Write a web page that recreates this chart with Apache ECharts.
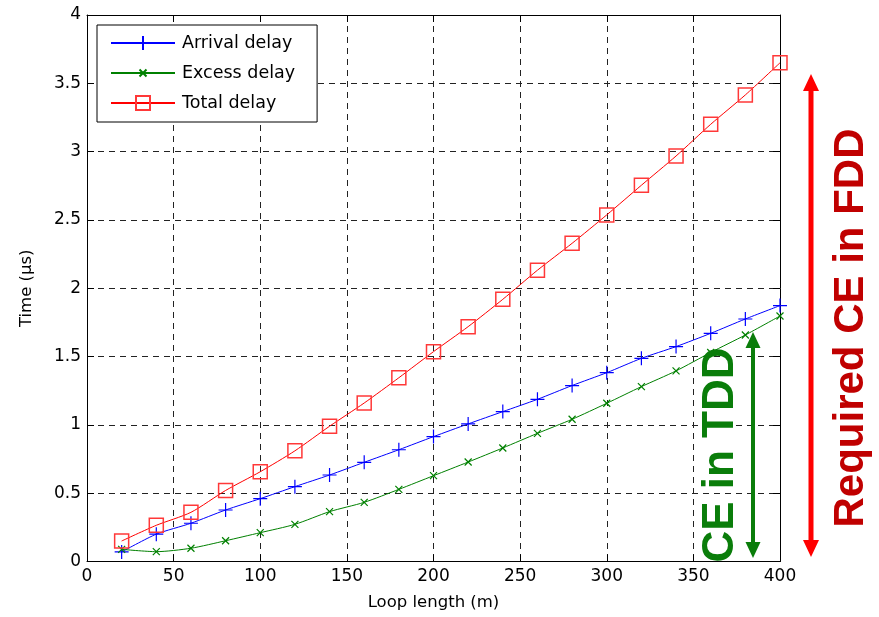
<!DOCTYPE html>
<html>
<head>
<meta charset="utf-8">
<script src="https://cdn.jsdelivr.net/npm/echarts@6/dist/echarts.min.js"></script>
<style>
  html, body { margin: 0; padding: 0; background: #fff; }
  #chart { width: 879px; height: 617px; }
</style>
</head>
<body>
<div id="chart"></div>
<script>
// Loop length (m)
const loopLength = [20, 40, 60, 80, 100, 120, 140, 160, 180, 200, 220, 240, 260, 280, 300, 320, 340, 360, 380, 400];
// Delay in microseconds
const arrivalDelay = [0.07, 0.20, 0.28, 0.377, 0.46, 0.548, 0.633, 0.726, 0.818, 0.914, 1.007, 1.097, 1.187, 1.288, 1.382, 1.487, 1.573, 1.67, 1.775, 1.873];
const excessDelay = [0.089, 0.072, 0.097, 0.152, 0.211, 0.272, 0.365, 0.433, 0.528, 0.628, 0.728, 0.831, 0.938, 1.041, 1.158, 1.28, 1.395, 1.53, 1.658, 1.797];
const totalDelay = [0.15, 0.265, 0.36, 0.52, 0.657, 0.81, 0.99, 1.16, 1.345, 1.536, 1.719, 1.919, 2.132, 2.329, 2.537, 2.754, 2.968, 3.2, 3.415, 3.65];

const seriesNames = ['Arrival delay', 'Excess delay', 'Total delay'];
const xTicks = { min: 0, max: 400, interval: 50 };
const yTicks = { min: 0, max: 4, interval: 0.5 };

const FONT = '"DejaVu Sans", Verdana, sans-serif';
const NOTE_FONT = '"Liberation Sans", Arial, sans-serif';

const pairs = (ys) => loopLength.map((x, i) => [x, ys[i]]);

const PLUS = 'path://M0,5L10,5M5,0L5,10';
// padded so the cross only fills half of its symbol box
const CROSS = 'path://M-5,-5M15,15M0,0L10,10M0,10L10,0';

const chart = echarts.init(document.getElementById('chart'), null, { renderer: 'canvas' });

const tickStyle = { show: true, inside: true, length: 7, lineStyle: { color: '#000', width: 1 } };
const lineStyleAxis = { show: true, onZero: false, lineStyle: { color: '#000', width: 1 } };
const gridDash = { show: true, lineStyle: { color: '#222', type: [6, 5], width: 1 } };

// Double-headed vertical arrow as one polygon centered at cx
function vArrow(cx, yTop, yBot, shaftW, headW, headH, color) {
  const s = shaftW / 2, h = headW / 2;
  return {
    type: 'polygon',
    shape: {
      points: [
        [cx, yTop], [cx + h, yTop + headH], [cx + s, yTop + headH],
        [cx + s, yBot - headH], [cx + h, yBot - headH], [cx, yBot],
        [cx - h, yBot - headH], [cx - s, yBot - headH], [cx - s, yTop + headH],
        [cx - h, yTop + headH]
      ]
    },
    style: { fill: color },
    z: 50
  };
}

const option = {
  backgroundColor: '#fff',
  animation: false,
  textStyle: { fontFamily: FONT },
  grid: { left: 87, right: 99, top: 15, bottom: 55.5, containLabel: false },
  legend: {
    left: 97, top: 25,
    orient: 'vertical',
    backgroundColor: '#fff',
    borderColor: '#000',
    borderWidth: 1,
    borderRadius: 0,
    padding: [9, 22, 10, 13],
    itemWidth: 64,
    itemHeight: 17.5,
    itemGap: 12,
    textStyle: { fontFamily: FONT, fontSize: 17.5, color: '#000', padding: [0, 0, 0, 2] },
    data: seriesNames
  },
  xAxis: [
    {
      type: 'value', position: 'bottom',
      min: xTicks.min, max: xTicks.max, interval: xTicks.interval,
      name: 'Loop length (m)', nameLocation: 'middle', nameGap: 33,
      nameTextStyle: { fontFamily: FONT, fontSize: 16.5, color: '#000' },
      axisLine: lineStyleAxis, axisTick: tickStyle,
      axisLabel: { fontFamily: FONT, fontSize: 17, color: '#000', margin: 7 },
      splitLine: gridDash
    },
    {
      type: 'value', position: 'top',
      min: xTicks.min, max: xTicks.max, interval: xTicks.interval,
      axisLine: lineStyleAxis, axisTick: tickStyle,
      axisLabel: { show: false }, splitLine: { show: false }
    }
  ],
  yAxis: [
    {
      type: 'value', position: 'left',
      min: yTicks.min, max: yTicks.max, interval: yTicks.interval,
      name: 'Time (µs)', nameLocation: 'middle', nameGap: 52,
      nameTextStyle: { fontFamily: FONT, fontSize: 16.5, color: '#000' },
      axisLine: lineStyleAxis, axisTick: tickStyle,
      axisLabel: { fontFamily: FONT, fontSize: 17, color: '#000', margin: 6 },
      splitLine: gridDash
    },
    {
      type: 'value', position: 'right',
      min: yTicks.min, max: yTicks.max, interval: yTicks.interval,
      axisLine: lineStyleAxis, axisTick: tickStyle,
      axisLabel: { show: false }, splitLine: { show: false }
    }
  ],
  series: [
    {
      name: seriesNames[0], type: 'line', data: pairs(arrivalDelay),
      smooth: 0.25, color: '#0000ff',
      symbol: PLUS, symbolSize: 14,
      lineStyle: { color: '#0000ff', width: 1 },
      itemStyle: { color: 'transparent', borderColor: '#0000ff', borderWidth: 1.2 },
      z: 3
    },
    {
      name: seriesNames[1], type: 'line', data: pairs(excessDelay),
      smooth: 0.25, color: '#008000',
      symbol: CROSS, symbolSize: 14,
      lineStyle: { color: '#008000', width: 1 },
      itemStyle: { color: 'transparent', borderColor: '#008000', borderWidth: 1.2 },
      z: 3
    },
    {
      name: seriesNames[2], type: 'line', data: pairs(totalDelay),
      smooth: 0.25, color: '#ff0000',
      symbol: 'rect', symbolSize: 14,
      lineStyle: { color: '#ff0000', width: 1 },
      itemStyle: { color: 'transparent', borderColor: '#ff3838', borderWidth: 1.5 },
      z: 3
    }
  ],
  graphic: [
    vArrow(753, 332, 558, 4, 15, 16, '#0a7d0a'),
    {
      type: 'text', x: 721, y: 455, rotation: Math.PI / 2, z: 50,
      style: {
        text: 'CE in TDD', fill: '#0a7d0a',
        font: 'bold 44px ' + NOTE_FONT,
        align: 'center', verticalAlign: 'middle'
      }
    },
    vArrow(811, 74, 557, 5, 16, 17, '#ff0000'),
    {
      type: 'text', x: 851, y: 328, rotation: Math.PI / 2, z: 50,
      style: {
        text: 'Required CE in FDD', fill: '#c00000',
        font: 'bold 42px ' + NOTE_FONT,
        align: 'center', verticalAlign: 'middle'
      }
    }
  ]
};

chart.setOption(option);
</script>
</body>
</html>
